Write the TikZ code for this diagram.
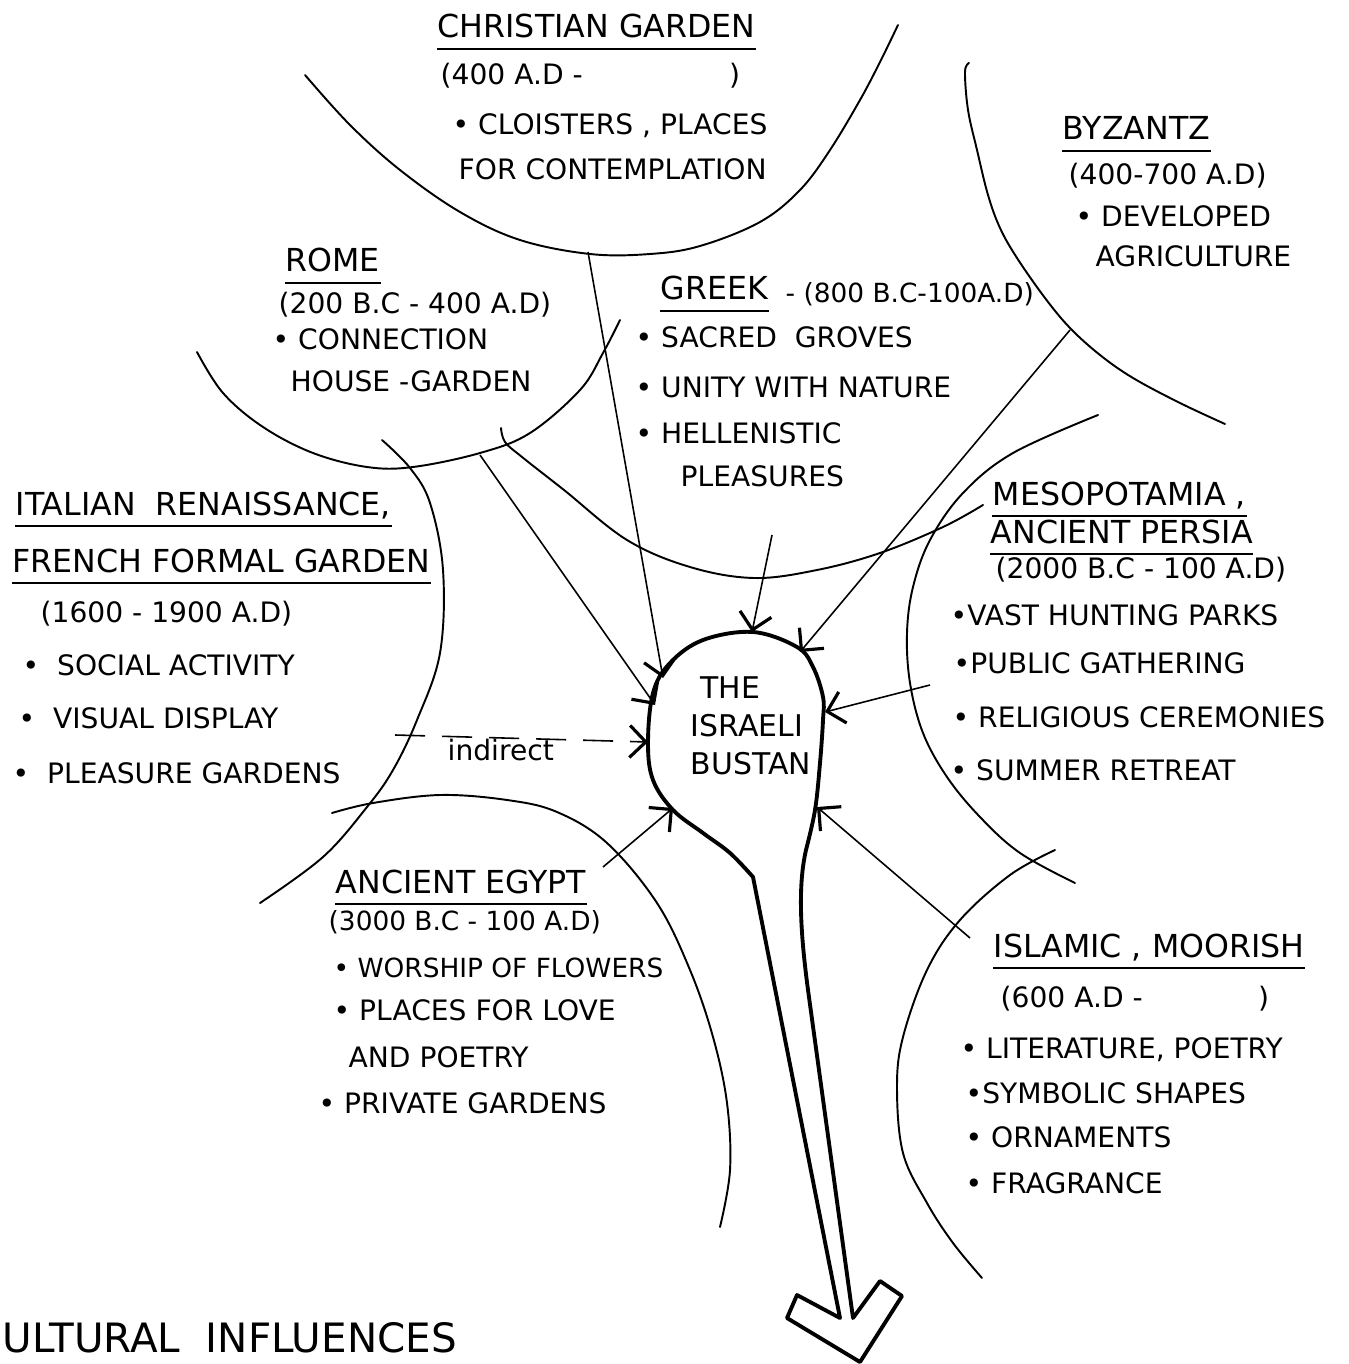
\documentclass[tikz,border=0pt]{standalone}
\usepackage{fontspec}
\setmainfont{DejaVu Sans}
\usetikzlibrary{arrows.meta,calc}

\begin{document}
\begin{tikzpicture}[x=0.01cm, y=-0.01cm,
  rim/.style={line width=0.55pt, line cap=round},
  bulb/.style={line width=1.1pt, line join=round, line cap=round},
  feed/.style={line width=0.45pt, -{Straight Barb[length=1.6mm,width=3.2mm,line width=0.9pt]}},
  ttl/.style={font=\fontsize{9}{11}\selectfont, anchor=base west, inner sep=0pt},
  txt/.style={font=\fontsize{8}{10}\selectfont, anchor=base west, inner sep=0pt},
  uline/.style={line width=0.5pt}]
  \fill[white] (0,0) rectangle (1349,1364);

  % circles of influence
  \draw[rim] plot[smooth, tension=0.6] coordinates {(305,75) (350,125) (400,170) (460,212) (520,240) (590,254) (650,254) (700,246) (760,222) (800,190) (830,150) (860,100) (880,62) (898,25)};
  \draw[rim] plot[smooth, tension=0.6] coordinates {(969,63) (965,72) (968,110) (977,150) (988,195) (1000,228) (1017,258) (1045,298) (1070,328) (1100,355) (1133,378) (1180,403) (1225,424)};
  \draw[rim] plot[smooth, tension=0.6] coordinates {(197,352) (223,393) (263,427) (313,453) (367,467) (413,467) (480,453) (530,433) (580,390) (603,353) (620,320)};
  \draw[rim] plot[smooth, tension=0.6] coordinates {(501,428) (505,442) (522,457) (564,490) (627,540) (690,567) (754,578) (817,570) (880,553) (943,527) (983,505)};
  \draw[rim] plot[smooth, tension=0.6] coordinates {(382,440) (410,468) (430,503) (443,570) (440,653) (417,720) (393,770) (367,807) (323,857) (260,903)};
  \draw[rim] plot[smooth, tension=0.6] coordinates {(1098,415) (1013,453) (963,493) (930,540) (913,587) (907,633) (910,683) (923,733) (947,777) (980,817) (1020,853) (1075,883)};
  \draw[rim] plot[smooth, tension=0.6] coordinates {(332,813) (373,803) (440,795) (507,800) (557,812) (607,843) (657,903) (690,970) (713,1037) (727,1103) (730,1170) (720,1227)};
  \draw[rim] plot[smooth, tension=0.6] coordinates {(1055,850) (1010,875) (960,920) (927,970) (903,1037) (897,1087) (903,1153) (927,1203) (953,1243) (982,1278)};

  % the bustan
  \draw[bulb] plot[smooth, tension=0.6] coordinates {(753,877) (730,853) (703,833) (673,810) (653,780) (648,743) (653,693) (670,663) (703,640) (753,632) (797,647) (813,667) (823,697) (823,720) (820,763) (815,810) (806,850)}
    .. controls (798,885) and (800,930) .. (808,990) -- (853,1318) -- (880,1281) -- (902,1296) -- (860,1362) -- (787,1318) -- (797,1295) -- (840,1318) -- cycle;
  \node[align=left, anchor=north west, inner sep=0pt, font=\fontsize{8.5}{10.8}\selectfont] (bustan) at (690,676) {\hspace*{1mm}THE\\ISRAELI\\BUSTAN};

  % feeding points
  \coordinate (chr-out) at (588,252);   \coordinate (in-chr) at (663,678);
  \coordinate (rome-out) at (480,455);  \coordinate (in-rome) at (655,705);
  \coordinate (greek-out) at (772,535); \coordinate (in-greek) at (752,632);
  \coordinate (byz-out) at (1070,330);  \coordinate (in-byz) at (800,652);
  \coordinate (meso-out) at (930,685);  \coordinate (in-meso) at (825,712);
  \coordinate (isl-out) at (970,938);   \coordinate (in-isl) at (817,807);
  \coordinate (egy-out) at (603,867);   \coordinate (in-egy) at (673,808);
  \coordinate (ita-out) at (395,735);   \coordinate (in-ita) at (648,742);
  \draw[feed] (chr-out) -- (in-chr);
  \draw[feed] (rome-out) -- (in-rome);
  \draw[feed] (greek-out) -- (in-greek);
  \draw[feed] (byz-out) -- (in-byz);
  \draw[feed] (meso-out) -- (in-meso);
  \draw[feed] (isl-out) -- (in-isl);
  \draw[feed] (egy-out) -- (in-egy);
  \draw[feed, dash pattern=on 3mm off 1.7mm] (ita-out) -- (in-ita);
  \node[txt] (indirect) at (447,760) {indirect};

  % christian garden
  \node[ttl] (chr) at (437,38) {CHRISTIAN GARDEN};
  \draw[uline] ([yshift=-1.1mm]chr.base west) -- ([yshift=-1.1mm]chr.base east);
  \node[txt] (chr-date) at (440,85) {(400 A.D -\hspace{5.2em})};
  \node[txt] (chr-1) at (452,135) {• CLOISTERS , PLACES};
  \node[txt] (chr-2) at (458,180) {FOR CONTEMPLATION};

  % byzantz
  \node[ttl] (byz) at (1062,140) {BYZANTZ};
  \draw[uline] ([yshift=-1.1mm]byz.base west) -- ([yshift=-1.1mm]byz.base east);
  \node[txt] (byz-date) at (1068,185) {(400-700 A.D)};
  \node[txt] (byz-1) at (1075,227) {• DEVELOPED};
  \node[txt] (byz-2) at (1095,267) {AGRICULTURE};

  % rome
  \node[ttl] (rome) at (285,272) {ROME};
  \draw[uline] ([yshift=-1.1mm]rome.base west) -- ([yshift=-1.1mm]rome.base east);
  \node[txt] (rome-date) at (278,314) {(200 B.C - 400 A.D)};
  \node[txt] (rome-1) at (272,350) {• CONNECTION};
  \node[txt] (rome-2) at (290,392) {HOUSE -GARDEN};

  % greek
  \node[ttl] (greek) at (660,300) {GREEK};
  \draw[uline] ([yshift=-1.1mm]greek.base west) -- ([yshift=-1.1mm]greek.base east);
  \node[txt, font=\fontsize{7.5}{9}\selectfont] (greek-date) at (785,303) {- (800 B.C-100A.D)};
  \node[txt] (greek-1) at (635,348) {• SACRED\ \ GROVES};
  \node[txt] (greek-2) at (635,397) {• UNITY WITH NATURE};
  \node[txt] (greek-3) at (635,443) {• HELLENISTIC};
  \node[txt] (greek-4) at (680,486) {PLEASURES};

  % italian / french
  \node[ttl] (ita) at (15,515) {ITALIAN\ \ RENAISSANCE,};
  \draw[uline] ([yshift=-1.1mm]ita.base west) -- ([yshift=-1.1mm]ita.base east);
  \node[ttl] (fre) at (12,572) {FRENCH FORMAL GARDEN};
  \draw[uline] ([yshift=-1.1mm]fre.base west) -- ([yshift=-1.1mm]fre.base east);
  \node[txt] (ita-date) at (40,622) {(1600 - 1900 A.D)};
  \node[txt] (ita-1) at (22,675) {•\ \ SOCIAL ACTIVITY};
  \node[txt] (ita-2) at (18,728) {•\ \ VISUAL DISPLAY};
  \node[txt] (ita-3) at (12,783) {•\ \ PLEASURE GARDENS};

  % mesopotamia
  \node[ttl] (meso) at (992,505) {MESOPOTAMIA ,};
  \draw[uline] ([yshift=-1.1mm]meso.base west) -- ([yshift=-1.1mm]meso.base east);
  \node[ttl] (persia) at (990,543) {ANCIENT PERSIA};
  \draw[uline] ([yshift=-1.1mm]persia.base west) -- ([yshift=-1.1mm]persia.base east);
  \node[txt] (meso-date) at (995,578) {(2000 B.C - 100 A.D)};
  \node[txt] (meso-1) at (950,625) {•VAST HUNTING PARKS};
  \node[txt] (meso-2) at (953,673) {•PUBLIC GATHERING};
  \node[txt] (meso-3) at (952,727) {• RELIGIOUS CEREMONIES};
  \node[txt] (meso-4) at (950,780) {• SUMMER RETREAT};

  % egypt
  \node[ttl] (egy) at (335,893) {ANCIENT EGYPT};
  \draw[uline] ([yshift=-1.1mm]egy.base west) -- ([yshift=-1.1mm]egy.base east);
  \node[txt, font=\fontsize{7.5}{9}\selectfont] (egy-date) at (328,930) {(3000 B.C - 100 A.D)};
  \node[txt, font=\fontsize{7.5}{9}\selectfont] (egy-1) at (333,977) {• WORSHIP OF FLOWERS};
  \node[txt] (egy-2) at (333,1020) {• PLACES FOR LOVE};
  \node[txt] (egy-3) at (348,1067) {AND POETRY};
  \node[txt] (egy-4) at (318,1113) {• PRIVATE GARDENS};

  % islamic
  \node[ttl] (isl) at (993,957) {ISLAMIC , MOORISH};
  \draw[uline] ([yshift=-1.1mm]isl.base west) -- ([yshift=-1.1mm]isl.base east);
  \node[txt] (isl-date) at (1000,1007) {(600 A.D -\hspace{4.1em})};
  \node[txt] (isl-1) at (960,1058) {• LITERATURE, POETRY};
  \node[txt] (isl-2) at (965,1103) {•SYMBOLIC SHAPES};
  \node[txt] (isl-3) at (965,1147) {• ORNAMENTS};
  \node[txt] (isl-4) at (965,1193) {• FRAGRANCE};

  \node[anchor=base west, inner sep=0pt, font=\fontsize{11.5}{13}\selectfont] (cultural) at (2,1352) {ULTURAL\ \ INFLUENCES};
\end{tikzpicture}
\end{document}
